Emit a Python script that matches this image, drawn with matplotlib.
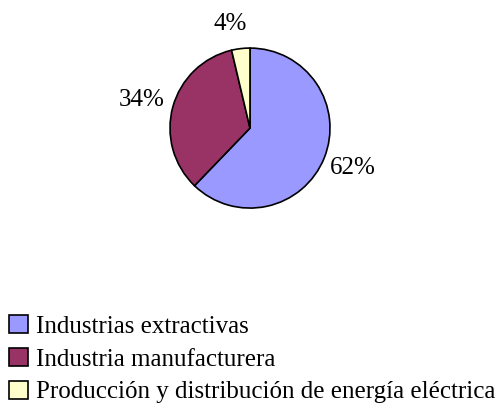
import numpy as np
import matplotlib.pyplot as plt

# Sector shares (%)
sectors = ["Industrias extractivas", "Industria manufacturera",
           "Producción y distribución de energía eléctrica"]
shares = [62.2, 34.1, 3.7]
labels = ["62%", "34%", "4%"]
colors = ["#9999FF", "#993366", "#FFFFCC"]

plt.rcParams['font.family'] = ['Liberation Serif', 'DejaVu Serif']

fig = plt.figure(figsize=(5, 4.17), dpi=100)
ax = fig.add_axes([0.34, 0.501, 0.32, 0.3837])

wedges, texts = ax.pie(shares, colors=colors, startangle=90, counterclock=False,
                       labels=labels, labeldistance=1.38,
                       wedgeprops=dict(edgecolor='black', linewidth=1.2),
                       textprops=dict(fontsize=18))
ax.set_xlim(-1, 1)
ax.set_ylim(-1, 1)
ax.set_aspect('equal')

# Excel-like label placement around the pie
label_shift = [1, 1, 4]  # degrees
label_dist = [1.38, 1.40, 1.32]
for w, t, s, d in zip(wedges, texts, label_shift, label_dist):
    ang = np.deg2rad((w.theta1 + w.theta2) / 2 + s)
    t.set_position((d * np.cos(ang), d * np.sin(ang)))
    t.set_ha('center')
    t.set_va('center')

fig.legend(wedges, sectors, loc='upper left', bbox_to_anchor=(0.018, 0.245),
           frameon=False, fontsize=18, handlelength=0.75, handleheight=0.75,
           handletextpad=0.35, labelspacing=0.4, borderpad=0, borderaxespad=0)

plt.savefig("out.png", dpi=100)
